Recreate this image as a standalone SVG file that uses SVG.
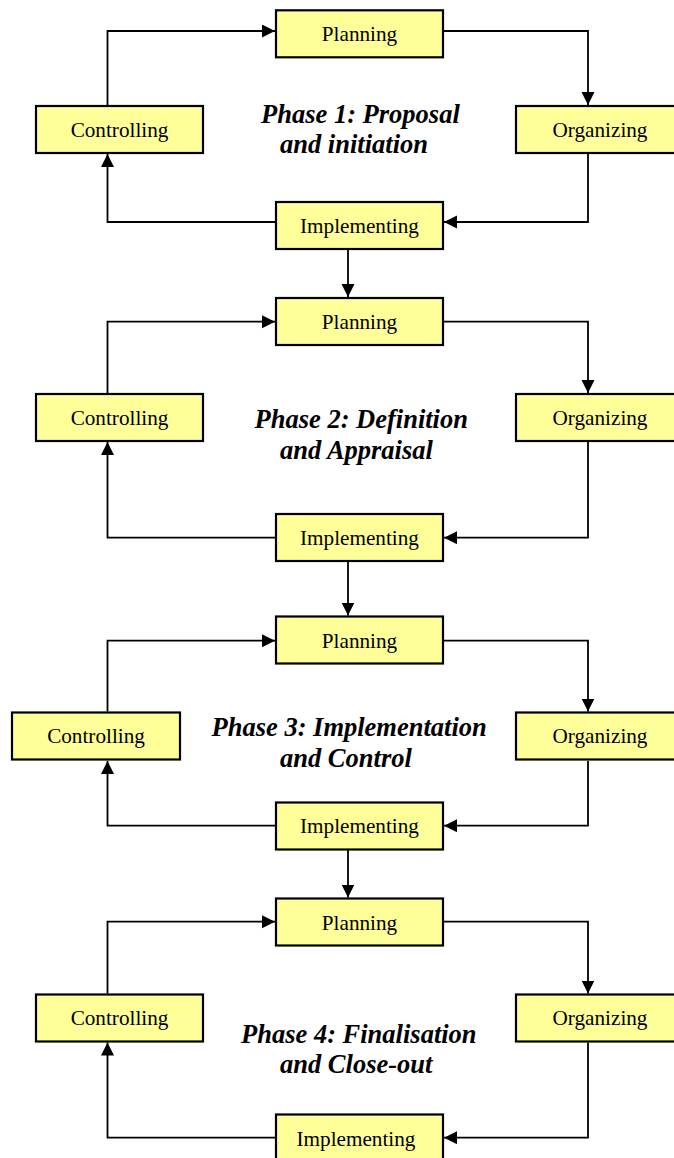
<svg xmlns="http://www.w3.org/2000/svg" width="674" height="1158" viewBox="0 0 674 1158">
<style>
.box{fill:#FFFF99;stroke:#000;stroke-width:2.2}
.lbl{font-family:"Liberation Serif","Times New Roman",serif;font-size:21.2px;fill:#000;text-anchor:middle}
.ph{font-family:"Liberation Serif","Times New Roman",serif;font-size:26.5px;font-weight:bold;font-style:italic;fill:#000}
.con{fill:none;stroke:#000;stroke-width:1.8;marker-end:url(#ah)}
</style>
<defs>
<marker id="ah" markerUnits="userSpaceOnUse" markerWidth="14" markerHeight="14" refX="13" refY="6.5" orient="auto">
<path d="M0,0 L13,6.5 L0,13 z" fill="#000"/>
</marker>
</defs>
<rect width="674" height="1158" fill="#fff"/>
<g id="connectors">
<path class="con" d="M107.5,105 V31 H275"/>
<path class="con" d="M444,31 H588 V105"/>
<path class="con" d="M588,154 V222 H444"/>
<path class="con" d="M275,222 H107.5 V154"/>
<path class="con" d="M348,250 V297"/>
<path class="con" d="M107.5,393 V321.7 H275"/>
<path class="con" d="M444,321.7 H588 V393"/>
<path class="con" d="M588,442 V537.7 H444"/>
<path class="con" d="M275,537.7 H107.5 V442"/>
<path class="con" d="M348,562 V615.5"/>
<path class="con" d="M107.5,711.5 V640.7 H275"/>
<path class="con" d="M444,640.7 H588 V711.5"/>
<path class="con" d="M588,761 V825.7 H444"/>
<path class="con" d="M275,825.7 H107.5 V761"/>
<path class="con" d="M348,850 V897.5"/>
<path class="con" d="M107.5,993.5 V921.7 H275"/>
<path class="con" d="M444,921.7 H588 V993.5"/>
<path class="con" d="M588,1042.5 V1137.7 H444"/>
<path class="con" d="M275,1137.7 H107.5 V1042.5"/>
</g>
<g id="p1-planning"><rect class="box" x="276" y="10.3" width="167" height="47"/><text class="lbl" x="359.5" y="40.5">Planning</text></g>
<g id="p1-controlling"><rect class="box" x="36" y="106" width="167" height="47"/><text class="lbl" x="119.5" y="136.5">Controlling</text></g>
<g id="p1-organizing"><rect class="box" x="516" y="106" width="168" height="47"/><text class="lbl" x="600" y="136.5">Organizing</text></g>
<g id="p1-implementing"><rect class="box" x="276" y="202" width="167" height="47"/><text class="lbl" x="359.5" y="232.5">Implementing</text></g>
<g id="p1-title"><text class="ph" x="261" y="122.5">Phase 1: Proposal</text><text class="ph" x="280" y="152.5">and initiation</text></g>

<g id="p2-planning"><rect class="box" x="276" y="298" width="167" height="47"/><text class="lbl" x="359.5" y="329">Planning</text></g>
<g id="p2-controlling"><rect class="box" x="36" y="394" width="167" height="47"/><text class="lbl" x="119.5" y="424.5">Controlling</text></g>
<g id="p2-organizing"><rect class="box" x="516" y="394" width="168" height="47"/><text class="lbl" x="600" y="424.5">Organizing</text></g>
<g id="p2-implementing"><rect class="box" x="276" y="514" width="167" height="47"/><text class="lbl" x="359.5" y="544.5">Implementing</text></g>
<g id="p2-title"><text class="ph" x="254.5" y="428">Phase 2: Definition</text><text class="ph" x="280" y="458.5">and Appraisal</text></g>

<g id="p3-planning"><rect class="box" x="276" y="616.5" width="167" height="47"/><text class="lbl" x="359.5" y="647.5">Planning</text></g>
<g id="p3-controlling"><rect class="box" x="12" y="712.5" width="168" height="47"/><text class="lbl" x="96" y="743">Controlling</text></g>
<g id="p3-organizing"><rect class="box" x="516" y="712.5" width="168" height="47"/><text class="lbl" x="600" y="743">Organizing</text></g>
<g id="p3-implementing"><rect class="box" x="276" y="802.5" width="167" height="47"/><text class="lbl" x="359.5" y="833">Implementing</text></g>
<g id="p3-title"><text class="ph" x="211.5" y="736">Phase 3: Implementation</text><text class="ph" x="280" y="766.5">and Control</text></g>

<g id="p4-planning"><rect class="box" x="276" y="898.5" width="167" height="47"/><text class="lbl" x="359.5" y="929.5">Planning</text></g>
<g id="p4-controlling"><rect class="box" x="36" y="994.5" width="167" height="47"/><text class="lbl" x="119.5" y="1025">Controlling</text></g>
<g id="p4-organizing"><rect class="box" x="516" y="994.5" width="168" height="47"/><text class="lbl" x="600" y="1025">Organizing</text></g>
<g id="p4-implementing"><rect class="box" x="276" y="1114.5" width="167" height="60"/><text class="lbl" x="356" y="1145.5">Implementing</text></g>
<g id="p4-title"><text class="ph" x="241" y="1043">Phase 4: Finalisation</text><text class="ph" x="280" y="1073">and Close-out</text></g>
</svg>
